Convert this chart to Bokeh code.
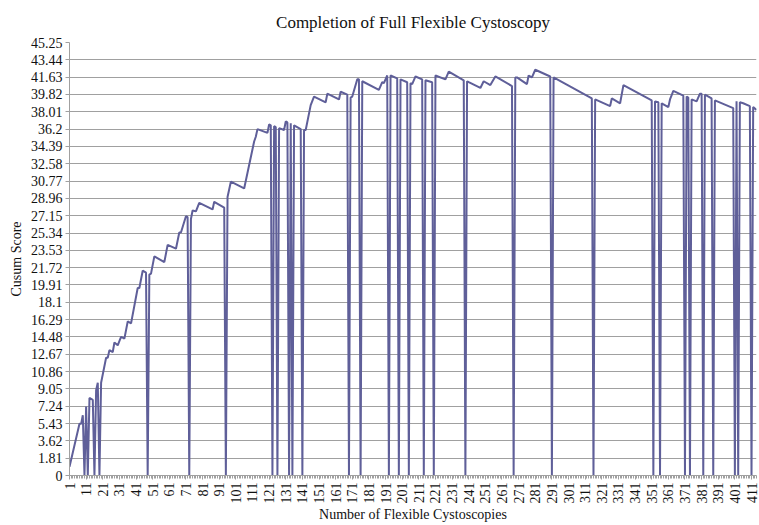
import numpy as np
from bokeh.plotting import figure
from bokeh.models import Range1d, FixedTicker
from bokeh.embed import file_html
from bokeh.resources import INLINE

# Case number of each vertex of the CUSUM line and its score
case_no = [1, 7, 8, 9, 10, 11, 12, 13, 15, 16, 17, 18, 19, 20, 23, 24, 25, 27, 28, 30,
           32, 34, 36, 38, 42, 43, 45, 47, 48, 49, 50, 52, 58, 60, 65, 67, 68, 71, 72, 73,
           74, 75, 77, 79, 87, 88, 94, 95, 96, 98, 106, 112, 113, 114, 120, 121, 122, 123, 124, 125,
           126, 127, 130, 131, 132, 133, 134, 135, 136, 140, 141, 142, 143, 146, 148, 155, 156, 163, 164, 168,
           169, 170, 171, 174, 175, 176, 177, 187, 189, 190, 192, 193, 194, 198, 199, 200, 204, 205, 206, 207,
           209, 213, 214, 215, 219, 220, 221, 227, 229, 238, 239, 240, 241, 248, 250, 254, 257, 267, 268, 269,
           270, 276, 277, 279, 281, 290, 291, 292, 315, 316, 317, 326, 327, 332, 334, 351, 352, 353, 355, 356,
           357, 361, 362, 364, 370, 371, 372, 373, 374, 375, 378, 380, 381, 382, 383, 387, 388, 389, 400, 401,
           402, 403, 404, 406, 410, 411, 412, 414]
cusum = [0.9, 5.4, 5.4, 6.3, 0, 7.2, 0, 8.1, 7.9, 0, 8.9, 9.7, 0, 9.7, 12.3, 12.3, 13.1, 12.9, 13.9, 13.6,
         14.5, 14.3, 16.1, 15.9, 19.6, 19.6, 21.4, 21.2, 0, 21.0, 21.1, 22.9, 22.3, 24.1, 23.7, 25.4, 25.4, 27.1, 27.0, 0,
         26.8, 27.7, 27.6, 28.5, 27.8, 28.6, 28.0, 0, 29.1, 30.7, 30.0, 34.9, 35.4, 36.2, 35.8, 36.7, 36.6, 0, 36.5, 36.4,
         0, 36.3, 36.1, 37.0, 36.9, 0, 36.8, 0, 36.6, 36.2, 0, 36.1, 36.1, 38.7, 39.6, 39.0, 39.9, 39.3, 40.1, 39.8,
         0, 39.5, 39.6, 41.4, 41.4, 0, 41.2, 40.3, 41.1, 41.0, 41.8, 0, 41.8, 41.5, 0, 41.4, 41.1, 0, 41.0, 40.9,
         41.7, 41.4, 0, 41.3, 41.1, 0, 41.8, 41.4, 42.2, 41.3, 0, 41.2, 41.1, 40.5, 41.2, 40.8, 41.7, 40.7, 0, 41.6,
         41.6, 40.9, 41.8, 41.6, 42.4, 41.7, 0, 41.6, 39.4, 0, 39.3, 38.6, 39.4, 38.9, 40.8, 39.2, 0, 39.1, 39.0, 0,
         38.9, 38.5, 39.3, 40.2, 39.7, 0, 39.6, 39.5, 0, 39.3, 39.1, 39.9, 39.9, 0, 39.8, 39.4, 0, 39.2, 38.4, 0,
         39.1, 0, 39.0, 38.9, 38.6, 0, 38.5, 38.2]

x_tick_labels = ["1", "11", "21", "31", "41", "51", "61", "71", "81", "91", "101", "111", "121", "131",
                 "141", "151", "161", "171", "181", "191", "201", "211", "221", "231", "241", "251", "261",
                 "271", "281", "291", "301", "311", "321", "331", "341", "351", "361", "371", "381", "391",
                 "401", "411"]
y_tick_labels = ["0", "1.81", "3.62", "5.43", "7.24", "9.05", "10.86", "12.67", "14.48", "16.29", "18.1",
                 "19.91", "21.72", "23.53", "25.34", "27.15", "28.96", "30.77", "32.58", "34.39", "36.2",
                 "38.01", "39.82", "41.63", "43.44", "45.25"]
n_cases = 414

x_ticks = [int(s) for s in x_tick_labels]
y_ticks = [float(s) for s in y_tick_labels]

FONT = "Liberation Serif"
GRAY = "#a0a0a0"

p = figure(width=759, height=524,
           x_range=Range1d(1, n_cases), y_range=Range1d(0, y_ticks[-1]),
           output_backend="svg", toolbar_location=None,
           min_border_left=69, min_border_right=3, min_border_top=42, min_border_bottom=45)

p.title.text = "Completion of Full Flexible Cystoscopy"
p.title.align = "center"
p.title.vertical_align = "top"
p.title.text_font = FONT
p.title.text_font_size = "17px"
p.title.text_font_style = "normal"
p.title.text_color = "#111111"
p.title.standoff = 18

p.line(case_no, cusum, line_color="#5f5f99", line_width=2)

p.xaxis.ticker = FixedTicker(ticks=x_ticks, minor_ticks=list(range(1, n_cases + 1)))
p.xaxis.major_label_overrides = {t: s for t, s in zip(x_ticks, x_tick_labels)}
p.xaxis.major_label_orientation = np.pi / 2
p.yaxis.ticker = FixedTicker(ticks=y_ticks, minor_ticks=[])
p.yaxis.major_label_overrides = {t: s for t, s in zip(y_ticks, y_tick_labels)}

p.xaxis.axis_label = "Number of Flexible Cystoscopies"
p.yaxis.axis_label = "Cusum Score"

for ax in (p.xaxis[0], p.yaxis[0]):
    ax.axis_line_color = GRAY
    ax.major_tick_line_color = GRAY
    ax.minor_tick_line_color = GRAY
    ax.major_tick_in = 0
    ax.major_tick_out = 4
    ax.minor_tick_in = 0
    ax.minor_tick_out = 3
    ax.major_label_text_font = FONT
    ax.major_label_text_font_size = "14px"
    ax.major_label_text_color = "#111111"
    ax.axis_label_text_font = FONT
    ax.axis_label_text_font_size = "14px"
    ax.axis_label_text_font_style = "normal"
    ax.axis_label_text_color = "#111111"
    ax.major_label_standoff = 3
    ax.axis_label_standoff = 4

p.xaxis.axis_label_standoff = 0

p.xgrid.visible = False
p.ygrid.grid_line_color = GRAY
p.ygrid.grid_line_width = 1
p.outline_line_color = None
p.background_fill_color = "white"
p.border_fill_color = "white"

open("out.html", "w").write(file_html(p, INLINE))
